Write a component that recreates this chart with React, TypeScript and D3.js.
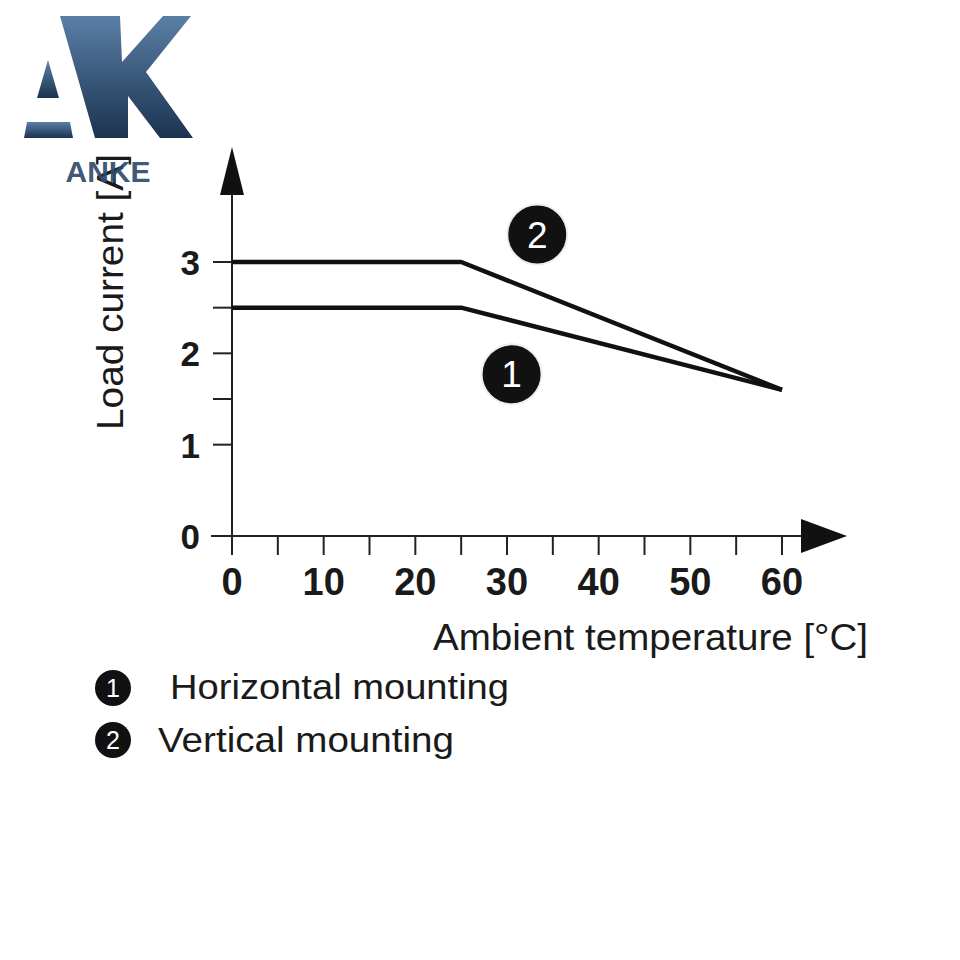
import React from "react";
import * as d3 from "d3";

const temps = [0, 25, 60];
const horizontalMounting = [2.5, 2.5, 1.6];
const verticalMounting = [3, 3, 1.6];
const xTicks = [0, 5, 10, 15, 20, 25, 30, 35, 40, 45, 50, 55, 60];
const xTickLabels = [0, 10, 20, 30, 40, 50, 60];
const yTicks = [0, 1, 1.5, 2, 2.5, 3];
const yTickLabels = [0, 1, 2, 3];
const seriesNames = ["Horizontal mounting", "Vertical mounting"];
const seriesMarkers = ["1", "2"];
const markerPositions = [
  { x: 30.5, y: 1.77 },
  { x: 33.3, y: 3.3 },
];

const x = d3.scaleLinear().domain([0, 60]).range([232, 782]);
const y = d3.scaleLinear().domain([0, 3]).range([536, 262]);

const line = d3
  .line<[number, number]>()
  .x((d) => x(d[0]))
  .y((d) => y(d[1]));

const font = "'Liberation Sans', Arial, Helvetica, sans-serif";
const ink = "#1a1a1a";

export default function App() {
  const series = [horizontalMounting, verticalMounting];
  const legendX = [170, 158];
  const legendW = [339, 296];
  return (
    <svg width={960} height={960} style={{ display: "block", position: "absolute", left: 0, top: 0, background: "#fff" }}>
      <defs>
        <linearGradient id="logoGrad" x1="0" y1="0" x2="0" y2="1">
          <stop offset="0" stopColor="#5a7fa6" />
          <stop offset="1" stopColor="#1b3350" />
        </linearGradient>
      </defs>
      {/* Axes */}
      <line x1={x(0)} x2={x(0)} y1={555} y2={195} stroke="#222" strokeWidth={2} />
      <polygon points={`${x(0)},147 ${x(0) - 12},195 ${x(0) + 12},195`} fill="#111" />
      <line x1={211} x2={803} y1={y(0)} y2={y(0)} stroke="#222" strokeWidth={2} />
      <polygon points={`847,${y(0)} 801,${y(0) - 17} 801,${y(0) + 17}`} fill="#111" />
      {xTicks.map((t) => (
        <line key={"xt" + t} x1={x(t)} x2={x(t)} y1={y(0)} y2={555} stroke="#222" strokeWidth={2} />
      ))}
      {yTicks.map((t) => (
        <line key={"yt" + t} x1={213} x2={x(0)} y1={y(t)} y2={y(t)} stroke="#222" strokeWidth={2} />
      ))}
      {xTickLabels.map((t) => (
        <text key={"xl" + t} x={x(t)} y={595} textAnchor="middle" fontFamily={font} fontWeight="bold" fontSize={38} fill={ink}>
          {t}
        </text>
      ))}
      {yTickLabels.map((t) => (
        <text key={"yl" + t} x={200} y={y(t) + 13} textAnchor="end" fontFamily={font} fontWeight="bold" fontSize={35} fill={ink}>
          {t}
        </text>
      ))}
      <text x={433} y={650} textLength={435} lengthAdjust="spacingAndGlyphs" fontFamily={font} fontSize={37} fill={ink}>
        Ambient temperature [°C]
      </text>
      <text transform={`translate(123,430) rotate(-90)`} textLength={276} lengthAdjust="spacingAndGlyphs" fontFamily={font} fontSize={37} fill={ink}>
        Load current [A]
      </text>
      {/* Series */}
      {series.map((s, i) => (
        <path
          key={"s" + i}
          d={line(temps.map((t, j) => [t, s[j]] as [number, number])) || ""}
          fill="none"
          stroke="#111"
          strokeWidth={4.5}
          strokeLinejoin="round"
        />
      ))}
      {markerPositions.map((m, i) => (
        <g key={"m" + i} transform={`translate(${x(m.x)},${y(m.y)})`}>
          <circle r={30} fill="#111" stroke="#eee" strokeWidth={2} />
          <text y={13} textAnchor="middle" fontFamily={font} fontSize={37} fill="#fff">
            {seriesMarkers[i]}
          </text>
        </g>
      ))}
      {/* Legend */}
      {seriesNames.map((n, i) => (
        <g key={"lg" + i}>
          <circle cx={113} cy={688 + i * 52} r={18} fill="#111" />
          <text x={113} y={697 + i * 52} textAnchor="middle" fontFamily={font} fontSize={25} fill="#fff">
            {seriesMarkers[i]}
          </text>
          <text x={legendX[i]} y={699 + i * 53} textLength={legendW[i]} lengthAdjust="spacingAndGlyphs" fontFamily={font} fontSize={35} fill={ink}>
            {n}
          </text>
        </g>
      ))}
      {/* Logo */}
      <g fill="url(#logoGrad)">
        <polygon points="48,60 59,98 37,98" />
        <polygon points="27,122 70,122 73,138 24,138" />
        <polygon points="60,16 120,16 122,62 163,16 191,16 146,72 193,138 160,138 128,96 128,138 95,138" />
      </g>
      <text x={108} y={182} textAnchor="middle" fontFamily={font} fontWeight="bold" fontSize={30} fill="#2f4b6c" opacity={0.92}>
        ANKE
      </text>
    </svg>
  );
}
